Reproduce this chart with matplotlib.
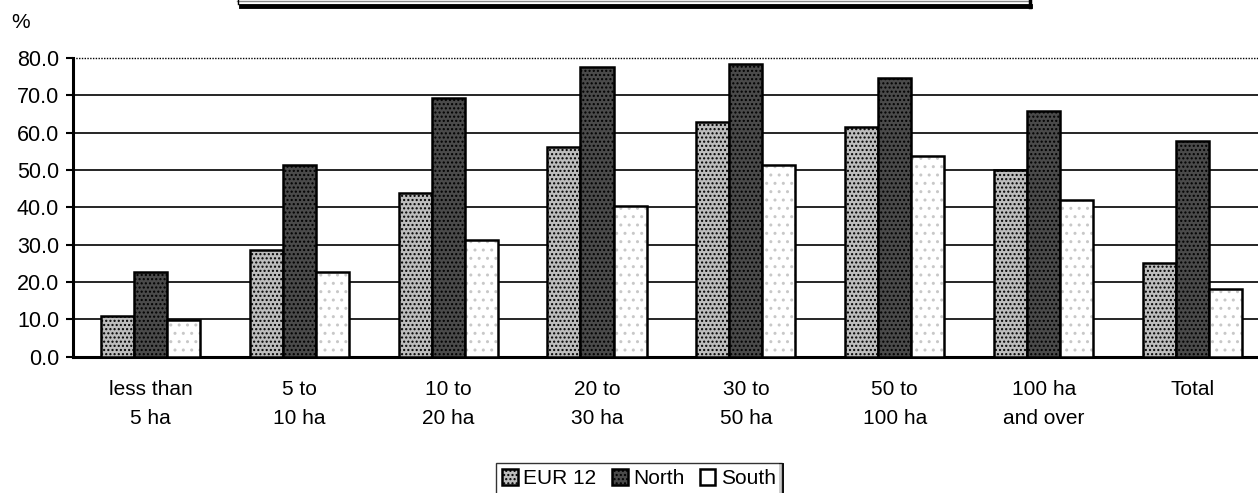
import matplotlib
matplotlib.use("Agg")
import matplotlib.pyplot as plt
import numpy as np
from matplotlib.lines import Line2D

categories = ["less than\n5 ha", "5 to\n10 ha", "10 to\n20 ha", "20 to\n30 ha",
              "30 to\n50 ha", "50 to\n100 ha", "100 ha\nand over", "Total"]
series_names = ["EUR 12", "North", "South"]
eur12 = [10.8, 28.5, 43.9, 56.2, 62.8, 61.5, 50.1, 25.2]
north = [22.8, 51.3, 69.4, 77.5, 78.4, 74.6, 65.9, 57.8]
south = [9.8, 22.7, 31.3, 40.4, 51.4, 53.7, 42.0, 18.1]
yticks = [0, 10, 20, 30, 40, 50, 60, 70, 80]

plt.rcParams['font.family'] = ['Liberation Sans', 'DejaVu Sans']
plt.rcParams['hatch.linewidth'] = 1.0

FS = 15
fig = plt.figure(figsize=(12.58, 4.93), dpi=100)
ax = fig.add_axes([73/1258, 1-356.7/493, 1-73/1258, (356.7-58)/493])

x = np.arange(len(categories))
w = 0.222
styles = [
    dict(facecolor='#bdbdbd', hatch='....'),
    dict(facecolor='#4a4a4a', hatch='....'),
    dict(facecolor='white', hatch=None),
]
data = [eur12, north, south]
handles = []
for i, (vals, st) in enumerate(zip(data, styles)):
    pos = x + (i - 1) * w
    if i == 2:
        ax.bar(pos, vals, width=w, facecolor='white', edgecolor='#c8c8c8',
               hatch='..', linewidth=0, zorder=3)
        b = ax.bar(pos, vals, width=w, facecolor='none', edgecolor='black',
                   linewidth=1.8, zorder=4, label=series_names[i])
    else:
        b = ax.bar(pos, vals, width=w, facecolor=st['facecolor'], edgecolor='black',
                   hatch=st['hatch'], linewidth=1.8, zorder=3, label=series_names[i])
    handles.append(b)

ax.set_xlim(-0.52, 7.44)
ax.set_ylim(0, 80)
ax.set_yticks(yticks)
ax.set_yticklabels([f"{v:.1f}" for v in yticks], fontsize=FS + 0.5)
ax.set_xticks(x)
ax.set_xticklabels(categories, fontsize=FS, linespacing=1.65)
ax.tick_params(axis='x', length=0, pad=17)
ax.tick_params(axis='y', length=5, width=1.5, direction='out', pad=5)

for v in yticks[1:-1]:
    ax.axhline(v, color='black', linewidth=1.2, zorder=1)
ax.axhline(80, color='black', linewidth=1.0, linestyle=(0, (1, 1)), zorder=1, clip_on=False)

for s in ['top', 'right']:
    ax.spines[s].set_visible(False)
ax.spines['left'].set_linewidth(2.2)
ax.spines['bottom'].set_linewidth(2.2)

fig.text(11/1258, 1-23/493, "%", fontsize=FS, va='center', ha='left')

# legend
leg = fig.legend(handles=handles, labels=series_names, loc='upper center',
                 bbox_to_anchor=(639/1258, 1-463/493), ncol=3, fontsize=FS,
                 frameon=True, fancybox=False, edgecolor='black',
                 handlelength=0.75, handleheight=0.75, handletextpad=0.25,
                 columnspacing=0.75, borderpad=0.3, borderaxespad=0)
leg.get_frame().set_linewidth(1.0)
fig.lines.append(Line2D([781/1258, 781/1258], [1-465/493, 0], transform=fig.transFigure,
                        color='black', linewidth=3.5))

# top title box remnant
fig.lines.append(Line2D([241/1258, 1030/1258], [1-5.5/493, 1-5.5/493], transform=fig.transFigure,
                        color='black', linewidth=3.5))
fig.lines.append(Line2D([237/1258, 1028/1258], [1-1.2/493, 1-1.2/493], transform=fig.transFigure,
                        color='#888888', linewidth=1.0))
fig.lines.append(Line2D([1030/1258, 1030/1258], [1, 1-7/493], transform=fig.transFigure,
                        color='black', linewidth=2.5))
fig.lines.append(Line2D([238/1258, 238/1258], [1, 1-4/493], transform=fig.transFigure,
                        color='black', linewidth=1.0))

fig.savefig("out.png", dpi=100)
